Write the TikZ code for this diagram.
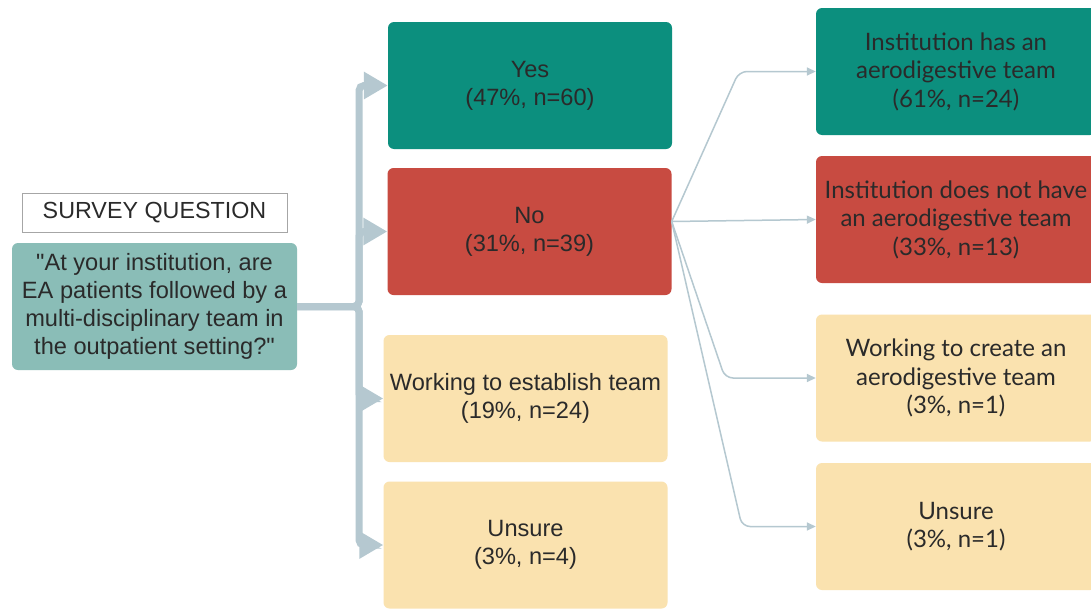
\documentclass[tikz,border=0pt]{standalone}
\usepackage{fontspec}
\setmainfont{Liberation Sans}[Ligatures=TeXOff]
\newfontfamily\latofont{Lato}
\usetikzlibrary{arrows.meta}
\definecolor{yesgreen}{HTML}{0C8F7E}
\definecolor{nored}{HTML}{C84B41}
\definecolor{unsureyellow}{HTML}{FAE2AF}
\definecolor{qteal}{HTML}{8ABDB7}
\definecolor{linkgray}{HTML}{B5C8D0}
\definecolor{inkgray}{HTML}{2A2A2A}

\begin{document}
\begin{tikzpicture}[x=1pt, y=-1pt,
        box/.style={rounded corners=6pt, minimum width=284pt, minimum height=127pt,
            inner sep=0pt, align=center, text=inkgray, font=\fontsize{23.6}{28}\selectfont},
        rbox/.style={box, minimum width=280pt, font=\latofont\fontsize{24}{28.5}\selectfont},
        bar/.style={linkgray, line width=7pt, rounded corners=5pt, -{Triangle[length=24pt,width=26pt]}},
        link/.style={linkgray, line width=1.5pt, rounded corners=8pt, -{Triangle[length=9pt,width=8pt]}}]
        \useasboundingbox (0,0) rectangle (1091,608);
        \clip (0,0) rectangle (1091,608);
        \fill[white] (0,0) rectangle (1091,608);

        % survey question
        \node[draw=gray!70, fill=white, minimum width=265pt, minimum height=39pt, inner sep=0pt,
            text=inkgray, font=\fontsize{23.3}{28}\selectfont] (title) at (154.5,212.5) {SURVEY QUESTION};
        \node[box, fill=qteal, minimum width=285pt] (q) at (154.5,306.5)
            {"At your institution, are\\EA patients followed by a\\multi-disciplinary team in\\the outpatient setting?"};

        % answers
        \node[box, fill=yesgreen]     (yes)    at (530,85.5)    {Yes\\(47\%, n=60)};
        \node[box, fill=nored]        (no)     at (529.5,231.5) {No\\(31\%, n=39)};
        \node[box, fill=unsureyellow] (work)   at (525.5,398.5) {Working to establish team\\(19\%, n=24)};
        \node[box, fill=unsureyellow] (unsure) at (525.5,545)   {Unsure\\(3\%, n=4)};

        % follow-up for the No answers
        \node[rbox, fill=yesgreen]     (has)    at (956,71.5)  {Institution has an\\aerodigestive team\\(61\%, n=24)};
        \node[rbox, fill=nored]        (hasnot) at (956,219.5) {Institution does not have\\an aerodigestive team\\(33\%, n=13)};
        \node[rbox, fill=unsureyellow] (create) at (956,378)   {Working to create an\\aerodigestive team\\(3\%, n=1)};
        \node[rbox, fill=unsureyellow] (unsr)   at (956,526.5) {Unsure\\(3\%, n=1)};

        % bracket
        \foreach \a in {yes,no,work,unsure}
            \draw[bar] (q.east) -- (359,306.5) |- (\a.west);

        % fan out of No
        \coordinate (fan) at ([yshift=10pt]no.east);
        \draw[link] (fan) -- (739,71.5)  -- (has.west);
        \draw[link] (fan) -- (hasnot.west);
        \draw[link] (fan) -- (725,378)   -- (create.west);
        \draw[link] (fan) -- (742,526.5) -- (unsr.west);
    \end{tikzpicture}
\end{document}
